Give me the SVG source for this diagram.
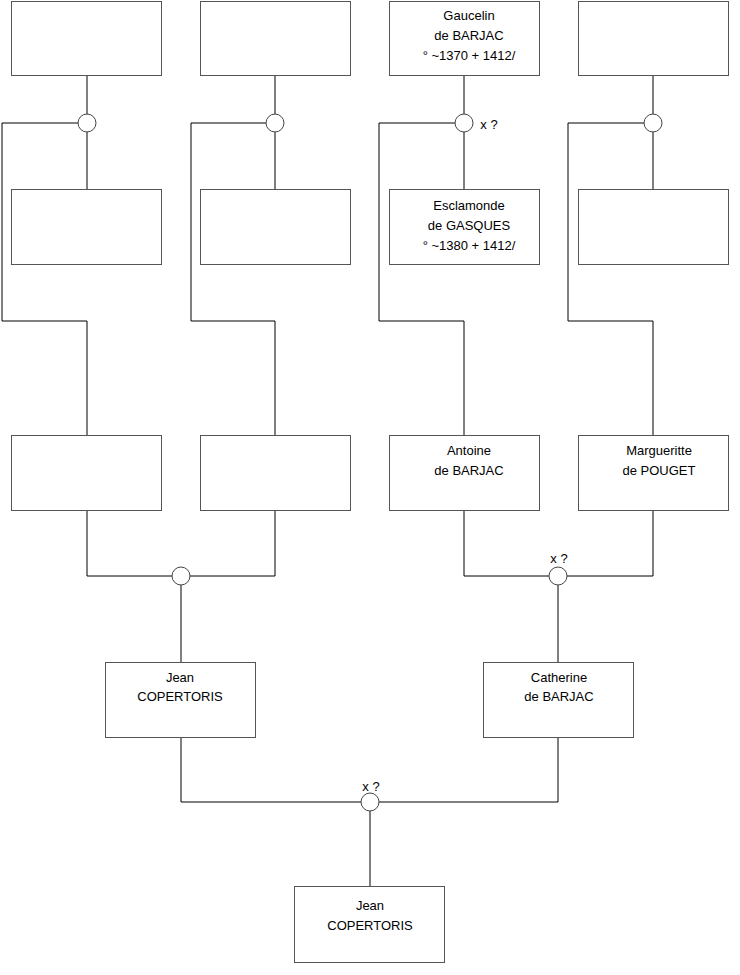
<svg xmlns="http://www.w3.org/2000/svg" width="740" height="975" viewBox="0 0 740 975">
<style>
.box{fill:#fff;stroke:#555;stroke-width:1}
.ln{fill:none;stroke:#000;stroke-width:1}
.ring{fill:#fff;stroke:#444;stroke-width:1}
text{font-family:"Liberation Sans",Arial,sans-serif;font-size:13px;fill:#000;text-anchor:middle}
</style>
<rect width="740" height="975" fill="#fff"/>
<g id="connectors">
<path class="ln" d="M87 76V189M87 123H2V321H87V435"/>
<path class="ln" d="M275 76V189M275 123H191V321H275V435"/>
<path class="ln" d="M464 76V189M464 123H379V321H464V435"/>
<path class="ln" d="M653 76V189M653 123H568V321H653V435"/>
<path class="ln" d="M87 510V576H275V510M181 576V662"/>
<path class="ln" d="M464 510V576H653V510M558 576V662"/>
<path class="ln" d="M181 737V802H558V737M370 802V886"/>
<circle class="ring" cx="87" cy="123" r="9"/>
<circle class="ring" cx="275" cy="123" r="9"/>
<circle class="ring" cx="464" cy="123" r="9"/>
<circle class="ring" cx="653" cy="123" r="9"/>
<circle class="ring" cx="181" cy="576" r="9"/>
<circle class="ring" cx="558" cy="576" r="9"/>
<circle class="ring" cx="370" cy="802" r="9"/>
<text x="489" y="129">x ?</text>
<text x="559" y="563">x ?</text>
<text x="371" y="791">x ?</text>
</g>
<g id="n1"><rect class="box" x="11.5" y="1.5" width="150" height="74"/></g>
<g id="n2"><rect class="box" x="200.5" y="1.5" width="150" height="74"/></g>
<g id="n3"><rect class="box" x="389.5" y="1.5" width="150" height="74"/>
<text x="469" y="20">Gaucelin</text><text x="469" y="40">de BARJAC</text><text x="469" y="60">° ~1370 + 1412/</text></g>
<g id="n4"><rect class="box" x="578.5" y="1.5" width="150" height="74"/></g>
<g id="n5"><rect class="box" x="11.5" y="189.5" width="150" height="75"/></g>
<g id="n6"><rect class="box" x="200.5" y="189.5" width="150" height="75"/></g>
<g id="n7"><rect class="box" x="389.5" y="189.5" width="150" height="75"/>
<text x="469" y="210">Esclamonde</text><text x="469" y="230">de GASQUES</text><text x="469" y="250">° ~1380 + 1412/</text></g>
<g id="n8"><rect class="box" x="578.5" y="189.5" width="150" height="75"/></g>
<g id="n9"><rect class="box" x="11.5" y="435.5" width="150" height="75"/></g>
<g id="n10"><rect class="box" x="200.5" y="435.5" width="150" height="75"/></g>
<g id="n11"><rect class="box" x="389.5" y="435.5" width="150" height="75"/>
<text x="469" y="455">Antoine</text><text x="469" y="475">de BARJAC</text></g>
<g id="n12"><rect class="box" x="578.5" y="435.5" width="150" height="75"/>
<text x="659" y="455">Margueritte</text><text x="659" y="475">de POUGET</text></g>
<g id="n13"><rect class="box" x="105.5" y="662.5" width="150" height="75"/>
<text x="180" y="682">Jean</text><text x="180" y="701">COPERTORIS</text></g>
<g id="n14"><rect class="box" x="483.5" y="662.5" width="150" height="75"/>
<text x="559" y="682">Catherine</text><text x="559" y="701">de BARJAC</text></g>
<g id="n15"><rect class="box" x="294.5" y="886.5" width="150" height="76"/>
<text x="370" y="910">Jean</text><text x="370" y="930">COPERTORIS</text></g>
</svg>
